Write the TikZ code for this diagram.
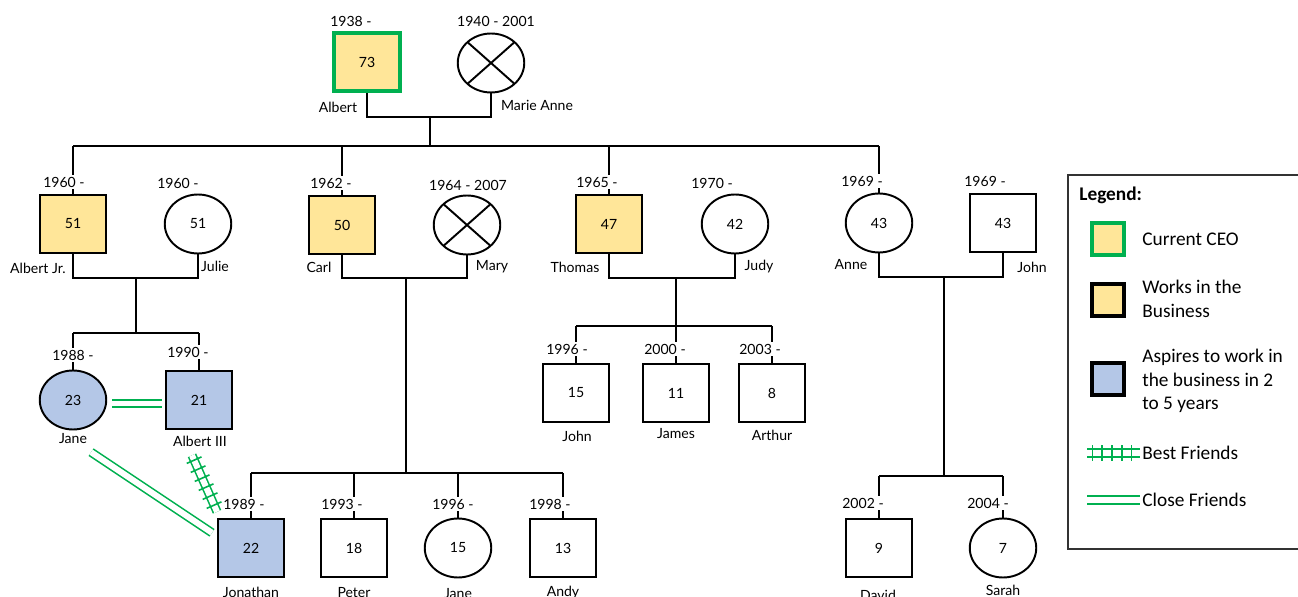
\documentclass[tikz,border=0pt]{standalone}
\usepackage{fontspec}
\setmainfont{Carlito}
\newfontfamily\famfont{Lato}
\usetikzlibrary{shapes.geometric,decorations.markings}
\definecolor{bizyellow}{HTML}{FFE699}
\definecolor{aspblue}{HTML}{B4C7E7}
\definecolor{frgreen}{HTML}{00B050}

\begin{document}
\begin{tikzpicture}[x=0.02cm, y=-0.02cm,
		font=\famfont\fontsize{8}{9.6}\selectfont,
		male/.style={draw, line width=1.1pt, minimum width=1.32cm, minimum height=1.17cm, inner sep=0pt},
		female/.style={ellipse, draw, line width=1.1pt, minimum width=1.33cm, minimum height=1.18cm, inner sep=0pt},
		dead/.style={female, path picture={\draw[line width=1.1pt] (path picture bounding box.north west) -- (path picture bounding box.south east) (path picture bounding box.north east) -- (path picture bounding box.south west);}},
		work/.style={fill=bizyellow},
		aspire/.style={fill=aspblue},
		ceo/.style={draw=frgreen, line width=2.2pt},
		yr/.style={fill=white, inner sep=1pt},
		who/.style={inner sep=1pt},
		link/.style={line width=1.1pt},
		closefr/.style={draw=frgreen, line width=0.9pt, double=white, double distance=3.4pt},
		bestfr/.style={closefr, postaction={decorate, decoration={markings, mark=between positions 3pt and -3pt step 5.6pt with {\fill[frgreen] (-0.45pt,-4.6pt) rectangle (0.45pt,4.6pt);}}}},
		legtxt/.style={font=\fontsize{11}{13.5}\selectfont, anchor=west, align=left, inner sep=0pt},
		legbox/.style={draw, line width=1.9pt, minimum size=0.64cm, inner sep=0pt}]
	\useasboundingbox (0,0) rectangle (1298,597);

	% founders
	\node (albert)    at (367, 62)  [male, work, ceo]  {73};
	\node (marie)     at (491, 63)  [dead]             {};
	% their children and spouses
	\node (albertjr)  at (73, 224)  [male, work]       {51};
	\node (julie)     at (198, 224) [female]           {51};
	\node (carl)      at (342, 225) [male, work]       {50};
	\node (mary)      at (467, 225) [dead]             {};
	\node (thomas)    at (609, 224) [male, work]       {47};
	\node (judy)      at (735, 224) [female]           {42};
	\node (anne)      at (879, 223) [female]           {43};
	\node (john)      at (1003, 223) [male]            {43};
	% grandchildren
	\node (jane)      at (73, 400)  [female, aspire]   {23};
	\node (albertiii) at (199, 400) [male, aspire]     {21};
	\node (jonathan)  at (251, 548) [male, aspire]     {22};
	\node (peter)     at (354, 548) [male]             {18};
	\node (janeb)     at (458, 548) [female]           {15};
	\node (andy)      at (563, 548) [male]             {13};
	\node (johnb)     at (576, 393) [male]             {15};
	\node (james)     at (676, 393) [male]             {11};
	\node (arthur)    at (772, 393) [male]             {8};
	\node (david)     at (879, 548) [male]             {9};
	\node (sarah)     at (1003, 548) [female]          {7};

	% marriages and descent
	\coordinate (m0) at (430, 117);
	\coordinate (s0) at (430, 146);
	\draw [link] (albert.south) |- (m0) -| (marie.south);
	\draw [link] (m0) -- (s0);
	\draw [link] (albertjr.north |- s0) -- (anne.north |- s0);
	\foreach \kid in {albertjr, carl, thomas, anne}
		\draw [link] (\kid.north |- s0) -- (\kid.north);

	\coordinate (m1) at (136, 278);
	\coordinate (s1) at (136, 333);
	\draw [link] (albertjr.south) |- (m1) -| (julie.south);
	\draw [link] (m1) -- (s1);
	\draw [link] (jane.north |- s1) -- (albertiii.north |- s1);
	\foreach \kid in {jane, albertiii}
		\draw [link] (\kid.north |- s1) -- (\kid.north);

	\coordinate (m2) at (406, 278);
	\coordinate (s2) at (406, 473);
	\draw [link] (carl.south) |- (m2) -| (mary.south);
	\draw [link] (m2) -- (s2);
	\draw [link] (jonathan.north |- s2) -- (andy.north |- s2);
	\foreach \kid in {jonathan, peter, janeb, andy}
		\draw [link] (\kid.north |- s2) -- (\kid.north);

	\coordinate (m3) at (676, 278);
	\coordinate (s3) at (676, 326);
	\draw [link] (thomas.south) |- (m3) -| (judy.south);
	\draw [link] (m3) -- (s3);
	\draw [link] (johnb.north |- s3) -- (arthur.north |- s3);
	\foreach \kid in {johnb, james, arthur}
		\draw [link] (\kid.north |- s3) -- (\kid.north);

	\coordinate (m4) at (944, 277);
	\coordinate (s4) at (944, 476);
	\draw [link] (anne.south) |- (m4) -| (john.south);
	\draw [link] (m4) -- (s4);
	\draw [link] (david.north |- s4) -- (sarah.north |- s4);
	\foreach \kid in {david, sarah}
		\draw [link] (\kid.north |- s4) -- (\kid.north);

	% years
	\node (y-albert)    at (351, 21)  [yr] {1938 -};
	\node (y-marie)     at (496, 21)  [yr] {1940 - 2001};
	\node (y-albertjr)  at (64, 182)  [yr] {1960 -};
	\node (y-julie)     at (178, 183) [yr] {1960 -};
	\node (y-carl)      at (331, 183) [yr] {1962 -};
	\node (y-mary)      at (468, 185) [yr] {1964 - 2007};
	\node (y-thomas)    at (597, 182) [yr] {1965 -};
	\node (y-judy)      at (712, 183) [yr] {1970 -};
	\node (y-anne)      at (862, 181) [yr] {1969 -};
	\node (y-john)      at (985, 181) [yr] {1969 -};
	\node (y-jane)      at (73, 355)  [yr] {1988 -};
	\node (y-albertiii) at (188, 352) [yr] {1990 -};
	\node (y-jonathan)  at (244, 504) [yr] {1989 -};
	\node (y-peter)     at (342, 504) [yr] {1993 -};
	\node (y-janeb)     at (453, 504) [yr] {1996 -};
	\node (y-andy)      at (550, 504) [yr] {1998 -};
	\node (y-johnb)     at (567, 349) [yr] {1996 -};
	\node (y-james)     at (665, 349) [yr] {2000 -};
	\node (y-arthur)    at (760, 349) [yr] {2003 -};
	\node (y-david)     at (863, 503) [yr] {2002 -};
	\node (y-sarah)     at (988, 503) [yr] {2004 -};

	% names
	\node (n-albert)    at (338, 107) [who] {Albert};
	\node (n-marie)     at (537, 105) [who] {Marie Anne};
	\node (n-albertjr)  at (38, 268)  [who] {Albert Jr.};
	\node (n-julie)     at (215, 266) [who] {Julie};
	\node (n-carl)      at (319, 267) [who] {Carl};
	\node (n-mary)      at (492, 267) [who] {Mary};
	\node (n-thomas)    at (575, 267) [who] {Thomas};
	\node (n-judy)      at (759, 267) [who] {Judy};
	\node (n-anne)      at (851, 265) [who] {Anne};
	\node (n-john)      at (1032, 267) [who] {John};
	\node (n-jane)      at (73, 439)  [who] {Jane};
	\node (n-albertiii) at (200, 441) [who] {Albert III};
	\node (n-jonathan)  at (251, 592) [who] {Jonathan};
	\node (n-peter)     at (354, 593) [who] {Peter};
	\node (n-janeb)     at (458, 594) [who] {Jane};
	\node (n-andy)      at (563, 593) [who] {Andy};
	\node (n-johnb)     at (577, 436) [who] {John};
	\node (n-james)     at (676, 434) [who] {James};
	\node (n-arthur)    at (772, 435) [who] {Arthur};
	\node (n-david)     at (878, 595) [who] {David};
	\node (n-sarah)     at (1003, 590) [who] {Sarah};

	% friendships
	\draw [closefr, shorten <=0.1cm, shorten >=0.06cm] ([yshift=-2pt]jane.east) -- ([yshift=-2pt]albertiii.west);
	\draw [closefr] ([shift={(2,6)}]n-jane.south east) -- ([shift={(-5,15)}]jonathan.north west);
	\draw [bestfr] ([shift={(-8,7)}]n-albertiii.south) -- ([shift={(0,-6)}]jonathan.north west);

	% legend
	\draw [line width=0.6pt, draw=black!80] (1068, 175) rectangle (1320, 549);
	\node (leghead) at (1079, 195) [legtxt] {\bfseries Legend:};
	\node (k-ceo)   at (1108, 239) [legbox, fill=bizyellow, draw=frgreen] {};
	\node (k-work)  at (1108, 300) [legbox, fill=bizyellow] {};
	\node (k-asp)   at (1108, 379) [legbox, fill=aspblue] {};
	\node (t-ceo)   at (1142, 239) [legtxt] {Current CEO};
	\node (t-work)  at (1142, 299) [legtxt] {Works in the\\Business};
	\node (t-asp)   at (1142, 381) [legtxt] {Aspires to work in\\the business in 2\\to 5 years};
	\node (t-best)  at (1142, 453) [legtxt] {Best Friends};
	\node (t-close) at (1142, 500) [legtxt] {Close Friends};
	\draw [bestfr]  ([xshift=-1.1cm]t-best.west) -- ([xshift=-0.05cm]t-best.west);
	\draw [closefr] ([xshift=-1.1cm]t-close.west) -- ([xshift=-0.05cm]t-close.west);
\end{tikzpicture}
\end{document}
